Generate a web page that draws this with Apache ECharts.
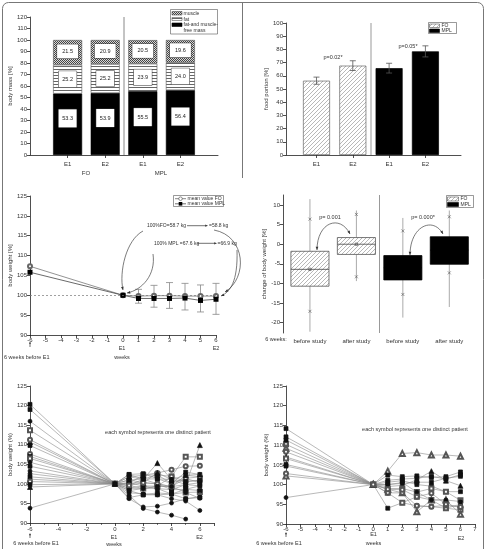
<!DOCTYPE html>
<html><head><meta charset="utf-8">
<script src="https://cdn.jsdelivr.net/npm/echarts@6/dist/echarts.min.js"></script>
<style>html,body{margin:0;padding:0;background:#fff}#c{width:486px;height:549px}</style>
</head><body><div id="c"></div>
<script>
// ---------- DATA ----------
// Panel A: body composition
const compCategories = ['E1', 'E2', 'E1', 'E2'];
const compGroups = ['FO', 'MPL'];
const ffmValues = [53.3, 53.9, 55.5, 56.4];
const fatValues = [25.2, 25.2, 23.9, 24.0];
const muscleValues = [21.5, 20.9, 20.5, 19.6];
// Panel B: food portion
const foodCategories = ['E1', 'E2', 'E1', 'E2'];
const foodMeans = [56.3, 67.7, 65.8, 78.5];
const foodErrors = [2.7, 3.7, 3.7, 4.2];
const foodP = ['p=0.02*', 'p=0.05*'];
// Panel C: mean body weight
const meanWeeks = [-6, 0, 1, 2, 3, 4, 5, 6];
const meanFO = [107.3, 100, 99.8, 99.9, 99.9, 99.8, 99.8, 99.8];
const meanMPL = [105.8, 100, 99.2, 99.2, 99.2, 99.3, 98.7, 99.0];
const sdWeeks = [1, 2, 3, 4, 5, 6];
const sdLow = [98.0, 97.0, 96.7, 96.3, 95.8, 95.2];
const sdHigh = [101.5, 102.5, 103.2, 103.0, 102.6, 103.0];
// Panel D: change of body weight
const boxCategories = ['before study', 'after study', 'before study', 'after study'];
const boxWhiskLow = [-22.3, -9.4, -18.7, -16.0];
const boxMarkLow = [-17.1, -8.3, -12.8, -7.3];
const boxQ1 = [-10.7, -2.6, -9.1, -5.1];
const boxMedian = [-6.4, 0.0, -6.0, -1.5];
const boxQ3 = [-1.8, 1.7, -2.9, 1.9];
const boxMarkHigh = [6.4, 7.6, 3.4, 7.0];
const boxWhiskHigh = [11.5, 8.6, 6.7, 8.6];
const boxMean = [-6.4, 0.0, -6.0, -1.5];
const boxP = ['p= 0.001', 'p= 0.000*'];
// Panels E/F: individual patients (weeks -6,0,1..6)
const patientWeeks = [-6, 0, 1, 2, 3, 4, 5, 6];
const foPatients = [
  [110.7,100,99.6,101.2,105.3,101.1,99.8,109.9],
  [113.7,100,100.2,102.2,102.3,101.9,106.9,106.9],
  [107.6,100,101.0,100.3,102.8,103.6,104.5,104.6],
  [101.2,100,97.1,93.7,92.8,92.0,91.0,null],
  [103.3,100,96.2,94.1,94.3,95.1,96.2,96.7],
  [116.0,100,97.7,97.5,97.2,96.2,95.6,93.2],
  [120.3,100,102.4,102.6,101.3,100.1,103.0,102.4],
  [119.0,100,101.8,101.2,100.0,99.3,102.2,101.8],
  [111.3,100,100.2,99.5,99.4,101.9,100.6,100.9],
  [109.8,100,98.9,98.8,98.8,98.5,99.8,100.3],
  [107.0,100,98.3,97.2,97.7,97.4,98.6,99.5],
  [106.5,100,99.6,98.8,99.4,99.3,97.8,97.9],
  [105.5,100,101.0,101.2,102.3,100.1,101.4,100.3],
  [104.5,100,100.2,100.3,100.0,98.5,98.6,98.3],
  [102.6,100,98.9,99.5,98.8,97.4,97.8,96.3],
  [101.8,100,96.5,97.2,97.2,97.4,96.2,96.5],
  [100.6,100,99.6,100.3,100.0,99.3,101.4,101.8],
  [99.8,100,102.4,101.2,101.3,101.1,100.6,100.9],
  [99.2,100,101.8,102.2,102.8,101.1,102.2,102.4],
  [93.8,100,98.3,98.8,99.4,99.3,99.8,99.5]
];
const mplPatients = [
  [102.2,100,103.4,107.9,108.1,107.5,107.5,107.2],
  [104.7,100,94.0,95.4,94.6,94.4,94.0,95.0],
  [110.2,100,97.9,95.4,96.9,96.1,94.0,93.6],
  [109.2,100,98.8,97.9,93.1,96.1,96.1,92.5],
  [108.3,100,97.9,97.9,94.6,94.4,94.7,94.3],
  [114.2,100,102.4,102.0,102.2,101.8,102.0,103.2],
  [112.1,100,101.1,101.4,101.6,102.1,101.4,102.5],
  [111.3,100,100.0,100.3,100.6,100.6,101.6,102.1],
  [107.0,100,99.5,99.8,101.2,103.4,101.0,99.7],
  [105.1,100,100.6,101.0,100.0,99.6,98.2,98.2],
  [106.6,100,99.0,99.0,98.1,99.0,98.2,96.0],
  [96.7,100,100.0,100.5,98.1,96.1,96.1,95.7],
  [102.8,100,98.8,98.7,96.9,97.8,95.0,94.3]
];
const foSymbols = ['triangle','emptyRect','emptyCircle','circle','circle','circle','rect','rect','emptyCircle','rect','rect','emptyRect','circle','rect','circle','rect','emptyCircle','rect','triangle','circle'];
const mplSymbols = ['emptyTriangle','rect','emptyRect','emptyTriangle','emptyCircle','rect','rect','rect','triangle','rect','emptyRect','circle','emptyCircle'];

// ---------- STYLE HELPERS ----------
const F = 'Liberation Sans, Arial, sans-serif';
function pat(w, h, draw) {
  const c = document.createElement('canvas'); c.width = w; c.height = h;
  const g = c.getContext('2d'); draw(g); return { image: c, repeat: 'repeat' };
}
const hatch = pat(4, 4, g => {
  g.fillStyle = '#fff'; g.fillRect(0, 0, 4, 4);
  g.strokeStyle = '#9a9a9a'; g.lineWidth = 0.7; g.beginPath();
  g.moveTo(0, 4); g.lineTo(4, 0); g.moveTo(-1, 1); g.lineTo(1, -1); g.moveTo(3, 5); g.lineTo(5, 3); g.stroke();
});
const checker = pat(2, 2, g => {
  g.fillStyle = '#d8d8d8'; g.fillRect(0, 0, 2, 2);
  g.fillStyle = '#444'; g.fillRect(0, 0, 1, 1); g.fillRect(1, 1, 1, 1);
});
const hlines = pat(4, 3, g => {
  g.fillStyle = '#fff'; g.fillRect(0, 0, 4, 3);
  g.fillStyle = '#666'; g.fillRect(0, 0, 4, 1);
});

function axis(o) {
  const base = {
    axisLine: { show: true, onZero: false, lineStyle: { color: '#222', width: 0.8 } },
    axisTick: { show: true, inside: false, length: 3, lineStyle: { color: '#222', width: 0.8 } },
    axisLabel: { fontSize: 6, color: '#333', margin: 3, fontFamily: F },
    splitLine: { show: false },
    nameTextStyle: { fontSize: 6, color: '#333', fontFamily: F }
  };
  for (const k in o) {
    if (base[k] && typeof o[k] === 'object' && !Array.isArray(o[k])) base[k] = Object.assign({}, base[k], o[k]);
    else base[k] = o[k];
  }
  return base;
}
function txt(x, y, s, extra) {
  return { type: 'text', x: x, y: y, z: 100, style: Object.assign({ text: s, fontSize: 6, fill: '#333', fontFamily: F, align: 'center', verticalAlign: 'middle' }, extra || {}) };
}
function ln(x1, y1, x2, y2, c, w) {
  return { type: 'line', z: 100, shape: { x1, y1, x2, y2 }, style: { stroke: c || '#333', lineWidth: w || 0.7 } };
}
function head(x, y, ang, s) {
  s = s || 3.5;
  const a1 = ang + Math.PI - 0.4, a2 = ang + Math.PI + 0.4;
  return { type: 'polygon', z: 100, shape: { points: [[x, y], [x + s * Math.cos(a1), y + s * Math.sin(a1)], [x + s * Math.cos(a2), y + s * Math.sin(a2)]] }, style: { fill: '#333' } };
}
function curve(x1, y1, c1x, c1y, c2x, c2y, x2, y2) {
  return { type: 'bezierCurve', z: 100, shape: { x1, y1, cpx1: c1x, cpy1: c1y, cpx2: c2x, cpy2: c2y, x2, y2 }, style: { stroke: '#444', lineWidth: 0.7, fill: null } };
}
function rect(x, y, w, h, fill, stroke) {
  return { type: 'rect', z: 100, shape: { x, y, width: w, height: h }, style: { fill: fill, stroke: stroke || null, lineWidth: 0.6 } };
}

// ---------- GRIDS ----------
const grids = [
  { left: 30, top: 17, width: 188, height: 138 },
  { left: 286, top: 23, width: 175, height: 132 },
  { left: 30, top: 196, width: 186, height: 139 },
  { left: 283, top: 195, width: 190, height: 138 },
  { left: 30, top: 386, width: 184, height: 137 },
  { left: 286, top: 386, width: 189, height: 138 }
].map(g => Object.assign({ outerBoundsMode: 'none', containLabel: false }, g));

const pos4 = [1, 2, 3, 4];
const compAxisCats = [''].concat(compCategories, ['']);
const xAxes = [
  axis({ type: 'category', gridIndex: 0, boundaryGap: false, data: compAxisCats,
    axisLabel: { margin: 6, interval: 0 }, axisTick: { interval: i => i > 0 && i < compAxisCats.length - 1 } }),
  axis({ type: 'value', gridIndex: 1, min: 0.16, max: 4.98, axisLabel: { margin: 6, customValues: pos4, formatter: v => foodCategories[Math.round(v) - 1] || '' }, axisTick: { customValues: pos4 } }),
  axis({ type: 'value', gridIndex: 2, min: -6, max: 6, interval: 1, axisLabel: { margin: 2 } }),
  axis({ type: 'value', gridIndex: 3, min: 0.42, max: 4.51, axisLine: { show: false }, axisTick: { show: false }, axisLabel: { margin: 5, customValues: pos4, formatter: v => boxCategories[Math.round(v) - 1] || '' } }),
  axis({ type: 'value', gridIndex: 4, min: -6, max: 7, interval: 2, axisLabel: { margin: 3, showMaxLabel: false }, minorTick: { show: true, splitNumber: 2, length: 2, lineStyle: { color: '#222', width: 0.6 } } }),
  axis({ type: 'value', gridIndex: 5, min: -6, max: 7, interval: 1, axisLabel: { margin: 2 } })
];
const yAxes = [
  axis({ type: 'value', gridIndex: 0, min: 0, max: 120, interval: 10, name: 'body mass [%]', nameLocation: 'middle', nameGap: 14 }),
  axis({ type: 'value', gridIndex: 1, min: 0, max: 100, interval: 10, name: 'food portion [%]', nameLocation: 'middle', nameGap: 11 }),
  axis({ type: 'value', gridIndex: 2, min: 90, max: 125, interval: 5, name: 'body weight [%]', nameLocation: 'middle', nameGap: 14 }),
  axis({ type: 'value', gridIndex: 3, min: -22.63, max: 12.55, axisLabel: { customValues: [-20, -15, -10, -5, 0, 5, 10] }, axisTick: { customValues: [-20, -15, -10, -5, 0, 5, 10] }, name: 'change of body weight [%]', nameLocation: 'middle', nameGap: 9 }),
  axis({ type: 'value', gridIndex: 4, min: 90, max: 125, interval: 5, name: 'body weight (%)', nameLocation: 'middle', nameGap: 14 }),
  axis({ type: 'value', gridIndex: 5, min: 90, max: 125, interval: 5, name: 'body weight (%)', nameLocation: 'middle', nameGap: 12 })
];

// ---------- SERIES ----------
const series = [];
function segLabel(w, h, pad, off) {
  return { show: true, position: 'inside', formatter: p => Number(p.value).toFixed(1), fontSize: 5.5, color: '#222', fontFamily: F,
    backgroundColor: '#fff', borderColor: '#333', borderWidth: 0.5, width: w, height: h, lineHeight: h, padding: pad, align: 'center', verticalAlign: 'middle', offset: off || [0, 0] };
}
const padded = arr => [null].concat(arr, [null]);
series.push({ type: 'bar', name: 'fat-and muscle-free mass', xAxisIndex: 0, yAxisIndex: 0, stack: 'comp', barWidth: 29,
  data: padded(ffmValues), itemStyle: { color: '#000', borderColor: '#000', borderWidth: 0.6 },
  label: segLabel(12, 10, [4, 3], [0, -6]) });
series.push({ type: 'bar', name: 'fat', xAxisIndex: 0, yAxisIndex: 0, stack: 'comp', barWidth: 29,
  data: padded(fatValues), itemStyle: { color: hlines, borderColor: '#555', borderWidth: 0.6 },
  label: segLabel(12, 8, [4, 3]) });
series.push({ type: 'bar', name: 'muscle', xAxisIndex: 0, yAxisIndex: 0, stack: 'comp', barWidth: 29,
  data: padded(muscleValues), itemStyle: { color: checker, borderColor: '#555', borderWidth: 0.6 },
  label: segLabel(15, 8, [3, 3], [0, -1]) });

series.push({ type: 'bar', name: 'food portion', xAxisIndex: 1, yAxisIndex: 1, barWidth: 27,
  data: foodMeans.map((v, i) => ({ value: [pos4[i], v], itemStyle: i < 2 ? { color: hatch, borderColor: '#666', borderWidth: 0.7 } : { color: '#000', borderColor: '#000', borderWidth: 0.7 } })),
  markLine: { silent: true, symbol: 'none', label: { show: false }, lineStyle: { color: '#bbb', width: 1.5, type: 'solid' }, data: [{ xAxis: 2.5 }] } });

function errRender(color, cw) {
  return function (params, api) {
    const x = api.value(0), lo = api.value(1), hi = api.value(2);
    const a = api.coord([x, lo]), b = api.coord([x, hi]);
    const st = { stroke: color, lineWidth: 0.8 };
    return { type: 'group', children: [
      { type: 'line', shape: { x1: a[0], y1: a[1], x2: b[0], y2: b[1] }, style: st },
      { type: 'line', shape: { x1: a[0] - cw, y1: a[1], x2: a[0] + cw, y2: a[1] }, style: st },
      { type: 'line', shape: { x1: b[0] - cw, y1: b[1], x2: b[0] + cw, y2: b[1] }, style: st }
    ] };
  };
}
series.push({ type: 'custom', name: 'food error', xAxisIndex: 1, yAxisIndex: 1, z: 5,
  renderItem: errRender('#555', 3), encode: { x: 0, y: [1, 2] },
  data: foodMeans.map((v, i) => [pos4[i], v - foodErrors[i], v + foodErrors[i]]) });

// Panel C
series.push({ type: 'custom', name: 'sd', xAxisIndex: 2, yAxisIndex: 2, z: 1,
  renderItem: errRender('#888', 3.5), encode: { x: 0, y: [1, 2] },
  data: sdWeeks.map((w, i) => [w, sdLow[i], sdHigh[i]]) });
series.push({ type: 'line', name: 'mean value FO', xAxisIndex: 2, yAxisIndex: 2, z: 3,
  data: meanWeeks.map((w, i) => [w, meanFO[i]]), symbol: 'emptyCircle', symbolSize: 4,
  lineStyle: { color: '#777', width: 0.8 }, itemStyle: { color: '#666', borderColor: '#666', borderWidth: 0.7 },
  markLine: { silent: true, symbol: 'none', label: { show: false }, lineStyle: { color: '#777', width: 0.7, type: [2, 2] }, data: [{ yAxis: 100 }] } });
series.push({ type: 'line', name: 'mean value MPL', xAxisIndex: 2, yAxisIndex: 2, z: 4,
  data: meanWeeks.map((w, i) => [w, meanMPL[i]]), symbol: 'rect', symbolSize: 5,
  lineStyle: { color: '#444', width: 0.8 }, itemStyle: { color: '#000' } });

// Panel D boxes
function boxRender(params, api) {
  const x = api.value(0), g = api.value(9);
  const hw = api.size([0.41, 0])[0];
  const c = v => api.coord([x, v]);
  const wl = c(api.value(1)), ml = c(api.value(2)), q1 = c(api.value(3)), md = c(api.value(4)),
    q3 = c(api.value(5)), mh = c(api.value(6)), wh = c(api.value(7)), mn = c(api.value(8));
  const cx = wl[0];
  const mark = p => [
    { type: 'line', shape: { x1: cx - 1.5, y1: p[1] - 1.5, x2: cx + 1.5, y2: p[1] + 1.5 }, style: { stroke: '#555', lineWidth: 0.6 } },
    { type: 'line', shape: { x1: cx - 1.5, y1: p[1] + 1.5, x2: cx + 1.5, y2: p[1] - 1.5 }, style: { stroke: '#555', lineWidth: 0.6 } }
  ];
  const inner = g === 0 ? '#444' : '#000';
  return { type: 'group', children: [
    { type: 'line', shape: { x1: cx, y1: wl[1], x2: cx, y2: wh[1] }, style: { stroke: '#aaa', lineWidth: 1 } },
    { type: 'rect', shape: { x: cx - hw, y: q3[1], width: 2 * hw, height: q1[1] - q3[1] },
      style: { fill: g === 0 ? hatch : '#000', stroke: g === 0 ? '#555' : '#000', lineWidth: 0.8 } },
    { type: 'line', shape: { x1: cx - hw, y1: md[1], x2: cx + hw, y2: md[1] }, style: { stroke: inner, lineWidth: 0.8 } },
    { type: 'rect', shape: { x: cx - 1.2, y: mn[1] - 1.2, width: 2.4, height: 2.4 }, style: { fill: 'none', stroke: inner, lineWidth: 0.6 } }
  ].concat(mark(ml), mark(mh)) };
}
series.push({ type: 'custom', name: 'boxes', xAxisIndex: 3, yAxisIndex: 3,
  renderItem: boxRender, encode: { x: 0, y: [1, 7] },
  data: pos4.map((p, i) => [p, boxWhiskLow[i], boxMarkLow[i], boxQ1[i], boxMedian[i], boxQ3[i], boxMarkHigh[i], boxWhiskHigh[i], boxMean[i], i < 2 ? 0 : 1]),
  markLine: { silent: true, symbol: 'none', label: { show: false }, lineStyle: { color: '#999', width: 1, type: 'solid' }, data: [{ xAxis: 2.5 }] } });

// Panels E, F
function patientSeries(rows, syms, gi) {
  rows.forEach((row, k) => {
    const d = [];
    row.forEach((v, i) => { if (v !== null) d.push([patientWeeks[i], v]); });
    const sym = syms[k];
    const empty = sym.indexOf('empty') === 0;
    series.push({ type: 'line', name: 'patient ' + gi + '-' + k, xAxisIndex: gi, yAxisIndex: gi,
      data: d, symbol: sym, symbolSize: sym.indexOf('riangle') > 0 ? 5 : 4,
      lineStyle: { color: '#8a8a8a', width: 0.6 },
      itemStyle: { color: empty ? '#555' : '#111', borderColor: empty ? '#555' : '#111', borderWidth: 0.7 } });
  });
}
patientSeries(foPatients, foSymbols, 4);
patientSeries(mplPatients, mplSymbols, 5);

// ---------- GRAPHIC (frames, legends, annotations) ----------
const G = [];
G.push({ type: 'rect', z: 0, shape: { x: 2.5, y: 2.5, width: 481, height: 570, r: 6 }, style: { fill: null, stroke: '#777', lineWidth: 1 } });
G.push(ln(242.5, 2.5, 242.5, 178, '#777', 1));
// Panel A separator, legend
G.push(ln(124, 17, 124, 155, '#888', 1));
G.push(rect(170.5, 9.5, 47, 24.5, '#fff', '#555'));
G.push(rect(172, 11.5, 10, 3.5, checker, '#555'));
G.push(txt(183.5, 13.3, 'muscle', { align: 'left', fontSize: 5 }));
G.push(rect(172, 17.5, 10, 3, hlines, '#555'));
G.push(txt(183.5, 19.2, 'fat', { align: 'left', fontSize: 5 }));
G.push(rect(172, 23, 10, 3.5, '#000', '#000'));
G.push(txt(183.5, 25, 'fat-and muscle-', { align: 'left', fontSize: 5 }));
G.push(txt(183.5, 30.5, 'free mass', { align: 'left', fontSize: 5 }));
G.push(txt(86, 173, compGroups[0]));
G.push(txt(161, 173, compGroups[1]));
// Panel B legend + p
G.push(rect(428.5, 22.5, 28, 11, '#fff', '#555'));
G.push(rect(429.5, 24, 10, 3.5, hatch, '#555'));
G.push(txt(441.5, 25.8, 'FO', { align: 'left', fontSize: 5 }));
G.push(rect(429.5, 29, 10, 3.5, '#000', '#000'));
G.push(txt(441.5, 30.9, 'MPL', { align: 'left', fontSize: 5 }));
G.push(txt(333, 57, foodP[0], { fontSize: 5.5 }));
G.push(txt(408, 46, foodP[1], { fontSize: 5.5 }));
// Panel C legend
G.push(rect(173.5, 195.5, 50, 11, '#fff', '#555'));
G.push(ln(175, 198.7, 186, 198.7, '#555', 0.7));
G.push({ type: 'circle', z: 101, shape: { cx: 180.5, cy: 198.7, r: 1.8 }, style: { fill: '#fff', stroke: '#444', lineWidth: 0.6 } });
G.push(txt(187.5, 198.9, 'mean value FO', { align: 'left', fontSize: 5 }));
G.push(ln(175, 203.8, 186, 203.8, '#333', 0.7));
G.push(rect(178.7, 202, 3.6, 3.6, '#000'));
G.push(txt(187.5, 204, 'mean value MPL', { align: 'left', fontSize: 5 }));
// Panel C annotations
G.push(txt(147, 225.7, '100%FO=58.7 kg', { align: 'left', fontSize: 5 }));
G.push(ln(187, 225.7, 206, 225.7, '#333', 0.7)); G.push(head(208, 225.7, 0, 3));
G.push(txt(209, 225.7, '=58.8 kg', { align: 'left', fontSize: 5 }));
G.push(txt(154, 243.3, '100% MPL =67.6 kg', { align: 'left', fontSize: 5 }));
G.push(ln(197, 243.3, 215, 243.3, '#333', 0.7)); G.push(head(217, 243.3, 0, 3));
G.push(txt(217.5, 243.3, '=66.9 kg', { align: 'left', fontSize: 5 }));
G.push(curve(143, 231, 126, 240, 119, 272, 123, 290)); G.push(head(123, 290, Math.atan2(18, 4)));
G.push(curve(153, 254, 156, 275, 142, 290, 127, 293)); G.push(head(127, 293, Math.atan2(3, -15)));
G.push(curve(214, 230, 246, 236, 248, 278, 225, 292)); G.push(head(225, 292, Math.atan2(14, -23)));
G.push(curve(237, 250, 238, 282, 230, 292, 221, 296)); G.push(head(221, 296, Math.atan2(4, -9)));
G.push(txt(122, 348.3, 'E1', { fontSize: 5.5 }));
G.push(txt(216, 348.3, 'E2', { fontSize: 5.5 }));
G.push(txt(122, 357, 'weeks', { fontSize: 5.5 }));
G.push(txt(4, 357, '6 weeks before E1', { align: 'left', fontSize: 5.5 }));
G.push(ln(30, 347, 30, 342.5, '#333', 0.7)); G.push(head(30, 341.5, -Math.PI / 2, 2.5));
// Panel D legend & annotations
G.push(rect(446.5, 195.5, 27, 12, '#fff', '#555'));
G.push(rect(447.5, 197, 11, 4, hatch, '#555'));
G.push(txt(460.5, 199, 'FO', { align: 'left', fontSize: 5 }));
G.push(rect(447.5, 202.5, 11, 4, '#000', '#000'));
G.push(txt(460.5, 204.5, 'MPL', { align: 'left', fontSize: 5 }));
G.push(txt(330, 217, boxP[0], { fontSize: 5.5 }));
G.push(txt(423, 217, boxP[1], { fontSize: 5.5 }));
G.push(curve(317, 250, 317, 222, 340, 214, 350, 234)); G.push(head(317, 250, Math.PI / 2)); G.push(head(350, 234, Math.atan2(20, 10)));
G.push(curve(410, 255, 410, 226, 433, 216, 443, 234)); G.push(head(410, 255, Math.PI / 2)); G.push(head(443, 234, Math.atan2(18, 10)));
G.push(txt(276, 339, '6 weeks:', { fontSize: 5.5 }));
// Panel E texts
G.push(txt(158, 432, 'each symbol represents one distinct patient', { fontSize: 5.5 }));
G.push(txt(114, 537.5, 'E1', { fontSize: 5.5 }));
G.push(txt(199.5, 537.5, 'E2', { fontSize: 5.5 }));
G.push(txt(114, 544.5, 'weeks', { fontSize: 5.5 }));
G.push(txt(36, 543.5, '6 weeks before E1', { fontSize: 5.5 }));
G.push(ln(30, 538, 30, 534, '#333', 0.7)); G.push(head(30, 533, -Math.PI / 2, 2.5));
// Panel F texts
G.push(txt(415, 429, 'each symbol represents one distinct patient', { fontSize: 5.5 }));
G.push(txt(373.5, 534, 'E1', { fontSize: 5.5 }));
G.push(txt(461, 538, 'E2', { fontSize: 5.5 }));
G.push(txt(373.5, 543.5, 'weeks', { fontSize: 5.5 }));
G.push(txt(279, 543.5, '6 weeks before E1', { fontSize: 5.5 }));
G.push(ln(286, 537, 286, 533, '#333', 0.7)); G.push(head(286, 532, -Math.PI / 2, 2.5));

const chart = echarts.init(document.getElementById('c'), null, { renderer: 'canvas' });
chart.setOption({
  animation: false,
  backgroundColor: '#fff',
  textStyle: { fontFamily: F },
  grid: grids,
  xAxis: xAxes,
  yAxis: yAxes,
  series: series,
  graphic: { elements: G }
});
</script>
</body></html>
